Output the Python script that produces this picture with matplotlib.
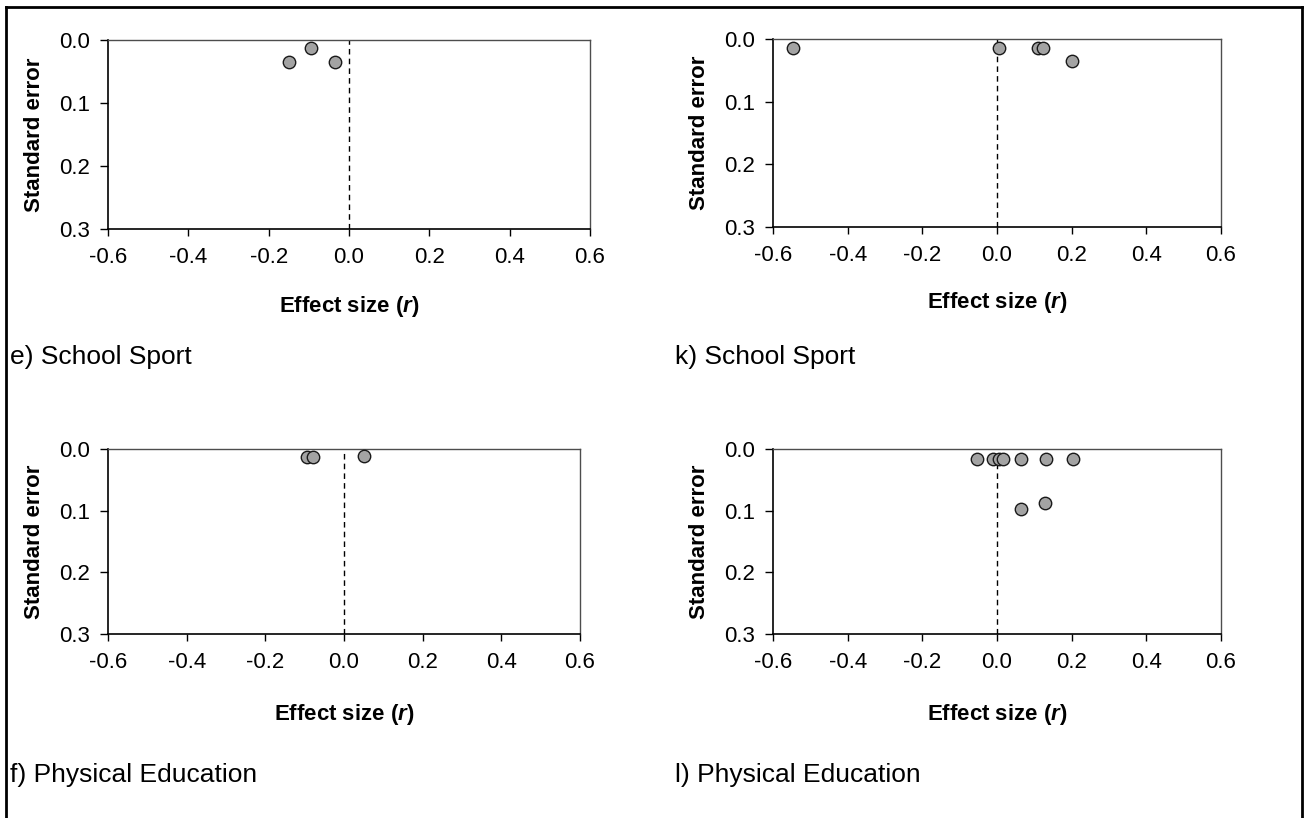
import matplotlib
matplotlib.use("Agg")
import matplotlib.pyplot as plt
from matplotlib.lines import Line2D

plt.rcParams['font.family'] = ['Liberation Sans', 'DejaVu Sans']
plt.rcParams['mathtext.fontset'] = 'custom'
plt.rcParams['mathtext.it'] = 'Liberation Sans:italic:bold'
plt.rcParams['mathtext.rm'] = 'Liberation Sans:bold'

# effect size r and standard error
tl_r = [-0.15, -0.095, -0.035]
tl_se = [0.035, 0.012, 0.035]

tr_r = [-0.546, 0.005, 0.111, 0.122, 0.2]
tr_se = [0.015, 0.015, 0.015, 0.015, 0.035]

bl_r = [-0.095, -0.08, 0.052]
bl_se = [0.0135, 0.0135, 0.012]

br_r = [-0.054, -0.012, 0.005, 0.017, 0.065, 0.132, 0.204, 0.063, 0.129]
br_se = [0.016, 0.016, 0.016, 0.016, 0.016, 0.016, 0.016, 0.098, 0.0875]

x_ticks = [-0.6, -0.4, -0.2, 0.0, 0.2, 0.4, 0.6]
y_ticks = [0.0, 0.1, 0.2, 0.3]

captions = ["e) School Sport", "k) School Sport", "f) Physical Education", "l) Physical Education"]

W, H = 1311, 818


def px_axes(fig, left, top, right, bottom):
    return fig.add_axes([left / W, 1 - bottom / H, (right - left) / W, (bottom - top) / H])


def funnel(ax, r, se, xlab_pad):
    ax.axvline(0, color='black', lw=1, ls=(0, (4, 3)), zorder=1)
    ax.scatter(r, se, s=80, facecolor='#A3A3A3', edgecolor='#1a1a1a', linewidth=1, zorder=3, clip_on=False)
    ax.set_xlim(-0.6, 0.6)
    ax.set_ylim(0.3, 0.0)
    ax.set_xticks(x_ticks)
    ax.set_xticklabels([f"{t:.1f}" for t in x_ticks])
    ax.set_yticks(y_ticks)
    ax.set_yticklabels([f"{t:.1f}" for t in y_ticks])
    ax.tick_params(axis='x', direction='out', length=5, width=1, pad=8, labelsize=16)
    ax.tick_params(axis='y', direction='out', length=6, width=1, pad=7, labelsize=16)
    for s in ['left', 'bottom']:
        ax.spines[s].set_color('black')
        ax.spines[s].set_linewidth(1.2)
    for s in ['top', 'right']:
        ax.spines[s].set_color('#4d4d4d')
        ax.spines[s].set_linewidth(1)
    ax.set_ylabel("Standard error", fontsize=16, fontweight='bold', labelpad=10)
    ax.set_xlabel("Effect size ($\\mathit{r}$)", fontsize=16, fontweight='bold', labelpad=xlab_pad)


fig = plt.figure(figsize=(W / 100, H / 100), dpi=100)

ax1 = px_axes(fig, 108, 40, 590, 229)
funnel(ax1, tl_r, tl_se, 19)
ax2 = px_axes(fig, 773, 39, 1221, 227)
funnel(ax2, tr_r, tr_se, 17)
ax3 = px_axes(fig, 108, 449, 580, 634)
funnel(ax3, bl_r, bl_se, 21)
ax4 = px_axes(fig, 773, 449, 1221, 634)
funnel(ax4, br_r, br_se, 21)

fig.text(10 / W, 1 - 357 / H, captions[0], fontsize=19, va='center', ha='left')
fig.text(675 / W, 1 - 357 / H, captions[1], fontsize=19, va='center', ha='left')
fig.text(10 / W, 1 - 775 / H, captions[2], fontsize=19, va='center', ha='left')
fig.text(675 / W, 1 - 775 / H, captions[3], fontsize=19, va='center', ha='left')

# frame around the figure (open at the bottom)
fig.add_artist(Line2D([6 / W, 6 / W], [0, 1 - 7 / H], transform=fig.transFigure, color='black', lw=2))
fig.add_artist(Line2D([6 / W, 1302 / W], [1 - 7 / H, 1 - 7 / H], transform=fig.transFigure, color='black', lw=2))
fig.add_artist(Line2D([1302 / W, 1302 / W], [0, 1 - 7 / H], transform=fig.transFigure, color='black', lw=2))

fig.savefig("out.png", dpi=100)
